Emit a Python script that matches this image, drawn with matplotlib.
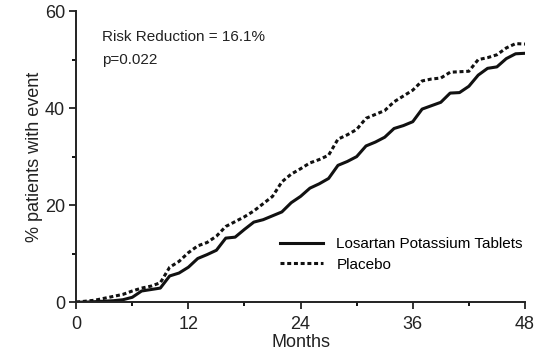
import matplotlib
matplotlib.use('Agg')
import matplotlib.pyplot as plt
from matplotlib.ticker import MultipleLocator

plt.rcParams['font.family'] = ['Liberation Sans', 'DejaVu Sans']

# values
months = [0, 1, 2, 3, 4, 5, 6, 7, 8, 9, 10, 11, 12, 13, 14, 15, 16, 17, 18, 19,
          20, 21, 22, 23, 24, 25, 26, 27, 28, 29, 30, 31, 32, 33, 34, 35, 36, 37,
          38, 39, 40, 41, 42, 43, 44, 45, 46, 47, 48]
losartan = [0, 0, 0.1, 0.2, 0.3, 0.5, 1.0, 2.3, 2.6, 2.9, 5.4, 6.0, 7.2, 9.0, 9.8,
            10.7, 13.2, 13.4, 15.0, 16.5, 17.0, 17.8, 18.6, 20.5, 21.8, 23.5, 24.4,
            25.5, 28.2, 29.0, 30.0, 32.2, 33.0, 34.0, 35.8, 36.4, 37.2, 39.8, 40.5,
            41.2, 43.1, 43.2, 44.5, 46.8, 48.2, 48.5, 50.2, 51.2, 51.3]
placebo = [0, 0.2, 0.4, 0.8, 1.2, 1.6, 2.3, 2.9, 3.3, 4.0, 7.2, 8.4, 10.2, 11.6,
           12.3, 13.6, 15.6, 16.6, 17.6, 18.8, 20.3, 21.8, 24.8, 26.4, 27.5, 28.7,
           29.4, 30.3, 33.6, 34.5, 35.6, 37.9, 38.7, 39.5, 41.3, 42.5, 43.7, 45.6,
           46.0, 46.2, 47.4, 47.5, 47.6, 50.0, 50.4, 51.0, 52.4, 53.3, 53.2]
x_ticks = [0, 12, 24, 36, 48]
y_ticks = [0, 20, 40, 60]

fig = plt.figure(figsize=(5.52, 3.58), dpi=100)
ax = fig.add_axes([0.138, 0.156, 0.813, 0.813])

ax.plot(months, losartan, color='#111111', lw=2.2, label='Losartan Potassium Tablets')
ax.plot(months, placebo, color='#111111', lw=2.2, linestyle=(0, (1.3, 0.9)),
        label='Placebo')

ax.set_xlim(0, 48)
ax.set_ylim(0, 60)
ax.set_xticks(x_ticks)
ax.set_yticks(y_ticks)
ax.xaxis.set_minor_locator(MultipleLocator(6))
ax.yaxis.set_minor_locator(MultipleLocator(10))
ax.tick_params(which='major', length=5, width=1.3, labelsize=13, colors='#222222')
ax.tick_params(axis='x', which='major', pad=5)
ax.tick_params(axis='y', which='major', pad=3)
ax.tick_params(which='minor', length=3, width=1.3)
for side in ['top', 'right']:
    ax.spines[side].set_visible(False)
for side in ['left', 'bottom']:
    ax.spines[side].set_linewidth(1.4)
    ax.spines[side].set_color('#222222')

ax.set_xlabel('Months', fontsize=13, labelpad=1, color='#222222')
ax.set_ylabel('% patients with event', fontsize=13, labelpad=1, color='#222222')

ax.text(2.8, 54.6, 'Risk Reduction = 16.1%', fontsize=11, va='center', color='#222222')
ax.text(2.8, 49.9, 'p=0.022', fontsize=11, va='center', color='#222222')

ax.legend(loc='upper left', bbox_to_anchor=(0.44, 0.245), frameon=False, fontsize=11,
          handlelength=2.8, handletextpad=0.9, labelspacing=0.45, borderaxespad=0)

fig.savefig('out.png', dpi=100)
